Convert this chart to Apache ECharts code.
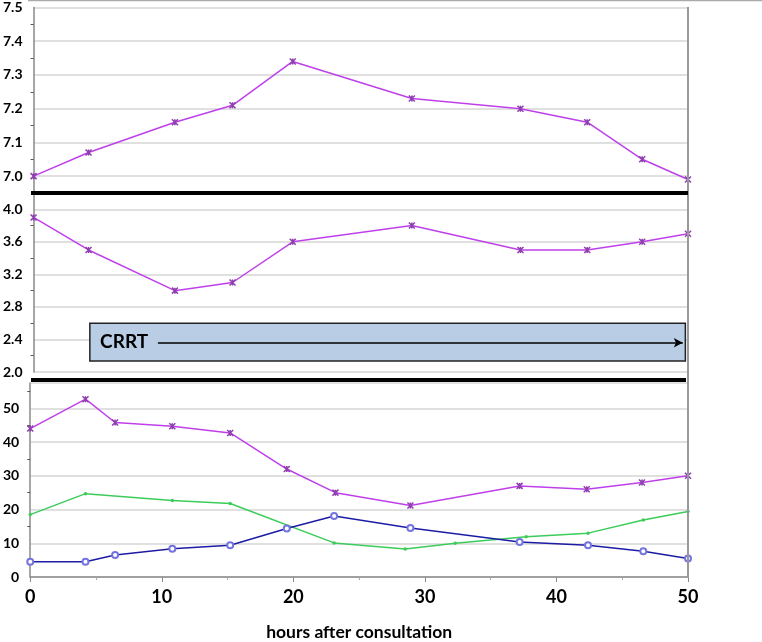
<!DOCTYPE html>
<html>
<head>
<meta charset="utf-8">
<script src="https://cdn.jsdelivr.net/npm/echarts@6/dist/echarts.min.js"></script>
<style>
  html, body { margin: 0; padding: 0; background: #fff; }
  #main { width: 762px; height: 642px; }
</style>
</head>
<body>
<div id="main"></div>
<script>
// hours after consultation for each sample
var hoursTop = [0, 4.2, 10.8, 15.2, 19.8, 28.9, 37.2, 42.3, 46.5, 50];
var phValues = [7.0, 7.07, 7.16, 7.21, 7.34, 7.23, 7.2, 7.16, 7.05, 6.99];

var hoursMid = [0, 4.2, 10.8, 15.2, 19.8, 28.9, 37.2, 42.3, 46.5, 50];
var midValues = [3.9, 3.5, 3.0, 3.1, 3.6, 3.8, 3.5, 3.5, 3.6, 3.7];

var hoursPurple = [0, 4.2, 6.45, 10.8, 15.2, 19.5, 23.2, 28.9, 37.2, 42.3, 46.5, 50];
var purpleValues = [44, 52.7, 45.8, 44.7, 42.7, 32, 25, 21.2, 27, 26, 28, 30];

var hoursGreen = [0, 4.2, 10.8, 15.2, 23.1, 28.5, 32.3, 37.7, 42.4, 46.6, 50];
var greenValues = [18.5, 24.7, 22.7, 21.8, 10.1, 8.3, 10, 11.9, 13, 16.9, 19.4];

var hoursBlue = [0, 4.2, 6.45, 10.8, 15.2, 19.5, 23.1, 28.9, 37.2, 42.4, 46.6, 50];
var blueValues = [4.5, 4.5, 6.5, 8.4, 9.4, 14.4, 18.1, 14.5, 10.4, 9.4, 7.6, 5.5];

var xTicks = [0, 10, 20, 30, 40, 50];

// CRRT box: start/end hour and the arrow start
var crrtStart = 4.3, crrtEnd = 49.8, crrtArrowFrom = 9.5;

function pairs(xs, ys) {
  return xs.map(function (x, i) { return [x, ys[i]]; });
}

var FONT = "Lato, 'Liberation Sans', sans-serif";
var xMark = "path://M0,0L10,10M10,0L0,10M5,0L5,10";

function yAxisBase(gridIndex) {
  return {
    type: "value",
    gridIndex: gridIndex,
    axisLine: { show: true, lineStyle: { color: "#8a8a8a", width: 1.5 } },
    axisTick: { show: false },
    minorTick: { show: true, splitNumber: 2, length: 3, lineStyle: { color: "#555" } },
    splitLine: { show: true, lineStyle: { color: "#d6d6d6", width: 1.5 } },
    axisLabel: {
      color: "#000",
      fontFamily: FONT,
      fontWeight: "bold",
      fontSize: 14,
      margin: 11
    }
  };
}

var yTop = yAxisBase(0);
yTop.min = 6.95;
yTop.max = 7.5;
yTop.minInterval = 0.1;
yTop.maxInterval = 0.1;
yTop.axisLabel.showMinLabel = false;
yTop.axisLabel.formatter = function (v) { return v.toFixed(1); };

var yMid = yAxisBase(1);
yMid.min = 2.0;
yMid.max = 4.2;
yMid.minInterval = 0.4;
yMid.maxInterval = 0.4;
yMid.axisLabel.showMaxLabel = false;
yMid.axisLabel.formatter = function (v) { return v.toFixed(1); };

var yBot = yAxisBase(2);
yBot.min = 0;
yBot.max = 57.5;
yBot.interval = 10;
yBot.axisLabel.showMaxLabel = false;

var myChart = echarts.init(document.getElementById("main"));
myChart.setOption({
  animation: false,
  backgroundColor: "#fff",
  grid: [
    { left: 30, right: 74, top: 7.5, height: 185.5 },
    { left: 30, right: 74, top: 193, height: 179 },
    { left: 30, right: 74, top: 383, height: 194 }
  ],
  xAxis: [
    { type: "value", gridIndex: 0, min: 0, max: 50, show: false },
    { type: "value", gridIndex: 1, min: 0, max: 50, show: false },
    {
      type: "value",
      gridIndex: 2,
      min: 0,
      max: 50,
      interval: 10,
      name: "hours after consultation",
      nameLocation: "middle",
      nameGap: 46,
      nameTextStyle: { color: "#000", fontFamily: FONT, fontWeight: "bold", fontSize: 17.5 },
      axisLine: { lineStyle: { color: "#8a8a8a", width: 1.5 } },
      axisTick: { show: true, length: 5, lineStyle: { color: "#8a8a8a" } },
      minorTick: { show: true, splitNumber: 2, length: 3, lineStyle: { color: "#aaa" } },
      splitLine: { show: false },
      axisLabel: {
        color: "#000",
        fontFamily: FONT,
        fontWeight: "bold",
        fontSize: 18,
        margin: 11,
        customValues: xTicks
      }
    }
  ],
  yAxis: [yTop, yMid, yBot],
  graphic: [
    // frame line at the very top
    { type: "line", z: 100, shape: { x1: 28, y1: 0.5, x2: 762, y2: 0.5 }, style: { stroke: "#aaa", lineWidth: 1.5 } },
    // right border of the plot
    { type: "line", z: 100, shape: { x1: 688, y1: 7, x2: 688, y2: 578 }, style: { stroke: "#999", lineWidth: 2 } },
    // thick panel separators
    { type: "line", z: 100, shape: { x1: 31, y1: 193, x2: 688, y2: 193 }, style: { stroke: "#000", lineWidth: 4 } },
    { type: "line", z: 100, shape: { x1: 31, y1: 380, x2: 686, y2: 380 }, style: { stroke: "#000", lineWidth: 4 } }
  ],
  series: [
    {
      type: "line",
      xAxisIndex: 0,
      yAxisIndex: 0,
      data: pairs(hoursTop, phValues),
      symbol: xMark,
      symbolSize: 6,
      lineStyle: { color: "#bf40ea", width: 1.5 },
      itemStyle: { color: "#8d3fae", borderColor: "#8d3fae", borderWidth: 1.5 }
    },
    {
      type: "line",
      xAxisIndex: 1,
      yAxisIndex: 1,
      data: pairs(hoursMid, midValues),
      symbol: xMark,
      symbolSize: 6,
      lineStyle: { color: "#bf40ea", width: 1.5 },
      itemStyle: { color: "#8d3fae", borderColor: "#8d3fae", borderWidth: 1.5 },
      markArea: {
        silent: true,
        itemStyle: { color: "#b9cde5", borderColor: "#222", borderWidth: 1.5 },
        label: {
          show: true,
          position: "insideLeft",
          distance: 11,
          color: "#000",
          fontFamily: FONT,
          fontWeight: "bold",
          fontSize: 19
        },
        data: [[{ name: "CRRT", coord: [crrtStart, 2.6] }, { coord: [crrtEnd, 2.135] }]]
      },
      markLine: {
        silent: true,
        symbol: ["none", "arrow"],
        symbolSize: [7, 9],
        lineStyle: { color: "#000", width: 1.5, type: "solid" },
        label: { show: false },
        data: [[{ coord: [crrtArrowFrom, 2.36] }, { coord: [crrtEnd - 0.2, 2.36] }]]
      }
    },
    {
      type: "line",
      xAxisIndex: 2,
      yAxisIndex: 2,
      data: pairs(hoursPurple, purpleValues),
      symbol: xMark,
      symbolSize: 6,
      lineStyle: { color: "#bf40ea", width: 1.5 },
      itemStyle: { color: "#8d3fae", borderColor: "#8d3fae", borderWidth: 1.5 }
    },
    {
      type: "line",
      xAxisIndex: 2,
      yAxisIndex: 2,
      data: pairs(hoursGreen, greenValues),
      symbol: "circle",
      symbolSize: 3.5,
      lineStyle: { color: "#3ccc5a", width: 1.5 },
      itemStyle: { color: "#3ccc5a" }
    },
    {
      type: "line",
      xAxisIndex: 2,
      yAxisIndex: 2,
      data: pairs(hoursBlue, blueValues),
      symbol: "emptyCircle",
      symbolSize: 6,
      lineStyle: { color: "#1c1ca6", width: 1.5 },
      itemStyle: { color: "#7474e0", borderColor: "#7474e0", borderWidth: 1 }
    }
  ]
});
</script>
</body>
</html>
